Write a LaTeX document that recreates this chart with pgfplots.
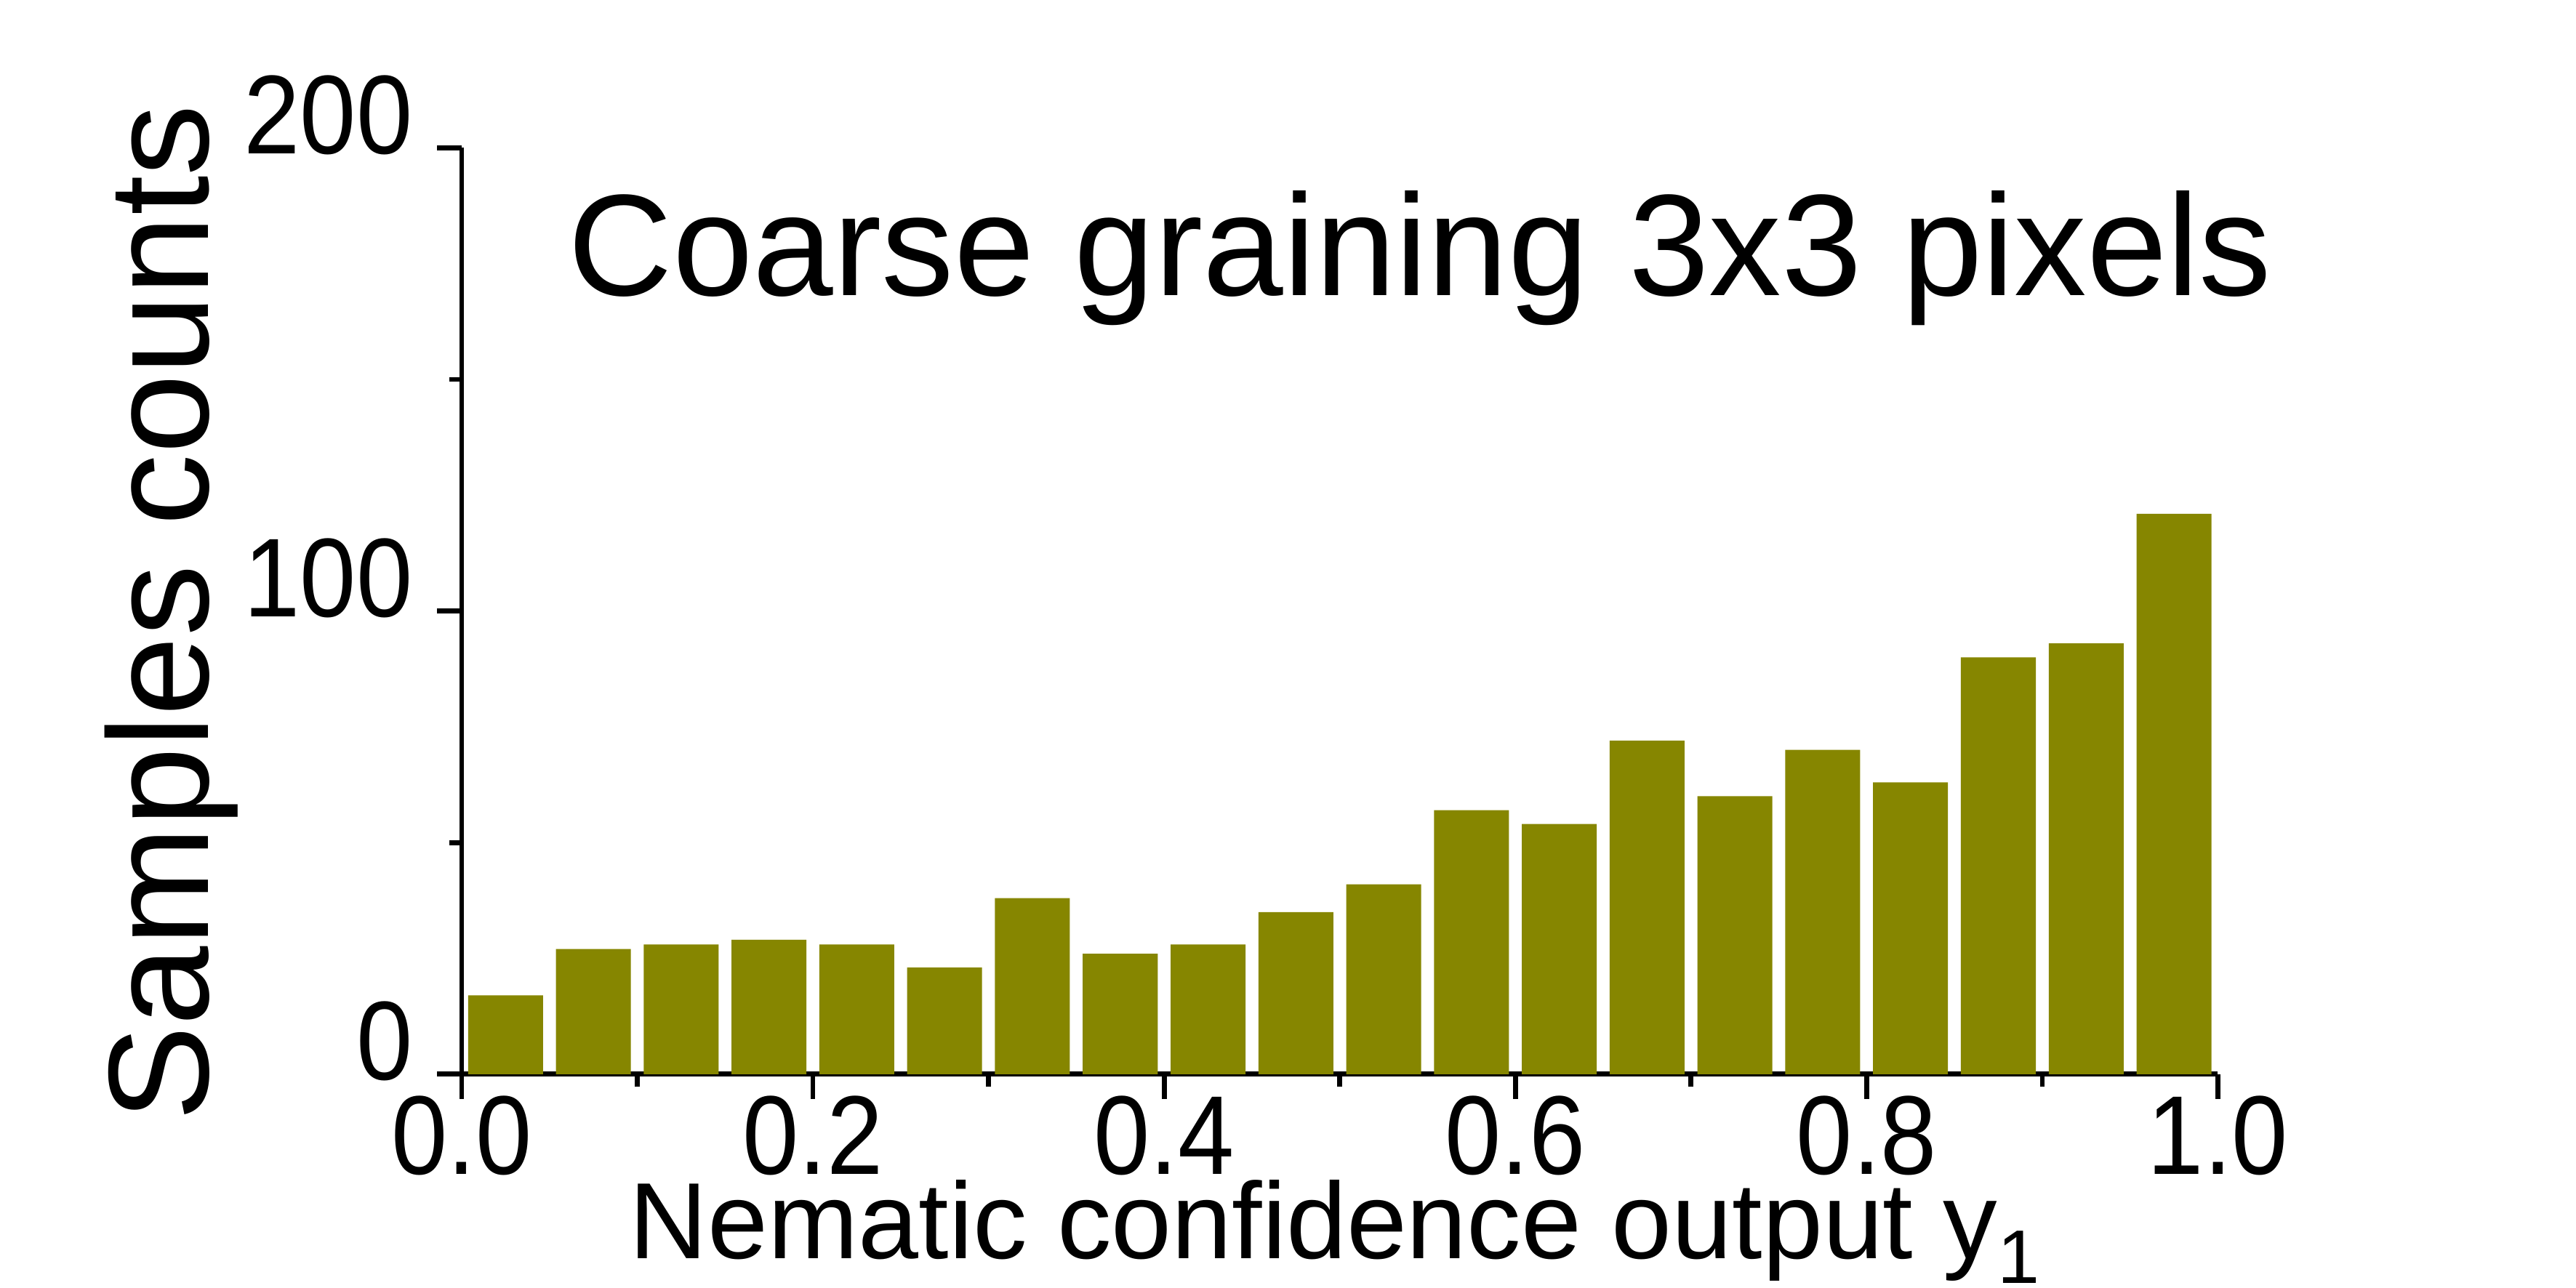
\documentclass[border=0pt]{standalone}
\usepackage{fontspec}
\setmainfont{Liberation Sans}
\usepackage{graphicx}
\usepackage{pgfplots}
\pgfplotsset{compat=1.18}
\definecolor{olivebar}{RGB}{134,134,0}
\begin{document}
\begin{tikzpicture}
\path[use as bounding box] (-140.5pt,-65pt) rectangle (643.5pt,327pt);
\begin{axis}[
  at={(0pt,0pt)}, anchor=south west,
  scale only axis, width=534.5pt, height=282pt,
  xmin=0, xmax=1, ymin=0, ymax=200,
  axis x line*=bottom, axis y line*=left,
  axis line style={line width=1.5pt, black},
  every tick/.style={line width=1.5pt, black},
  tick align=outside,
  major tick length=7.5pt, minor tick length=3.75pt,
  xtick={0,0.2,0.4,0.6,0.8,1}, minor x tick num=1,
  ytick={0,100,200}, minor y tick num=1,
  /pgf/number format/assume math mode=true,
  xticklabel={\scalebox{1}[1.11]{\pgfmathprintnumber[fixed,fixed zerofill,precision=1]{\tick}}},
  yticklabel={\scalebox{1}[1.11]{\pgfmathprintnumber[fixed,precision=0]{\tick}}},
  xticklabel style={font=\fontsize{30.75}{36}\selectfont, inner sep=0pt, yshift=1pt},
  yticklabel style={font=\fontsize{30.75}{36}\selectfont, inner sep=0pt, yshift=10pt, xshift=-7.25pt},
]
\addplot[ybar, bar width=22.8pt, fill=olivebar, draw=none] coordinates {
 (0.025,17) (0.075,27) (0.125,28) (0.175,29) (0.225,28)
 (0.275,23) (0.325,38) (0.375,26) (0.425,28) (0.475,35)
 (0.525,41) (0.575,57) (0.625,54) (0.675,72) (0.725,60)
 (0.775,70) (0.825,63) (0.875,90) (0.925,93) (0.975,121)
};
\end{axis}
\node[anchor=base, font=\fontsize{44}{50}\selectfont] at (291.75pt,237pt) {Coarse graining 3x3 pixels};
\node[anchor=base, font=\fontsize{33}{38}\selectfont] at (266pt,-56.25pt) {Nematic confidence output y\textsubscript{1}};
\node[anchor=base, rotate=90, font=\fontsize{43.5}{50}\selectfont] at (-77pt,140.5pt) {Samples counts};
\end{tikzpicture}
\end{document}
